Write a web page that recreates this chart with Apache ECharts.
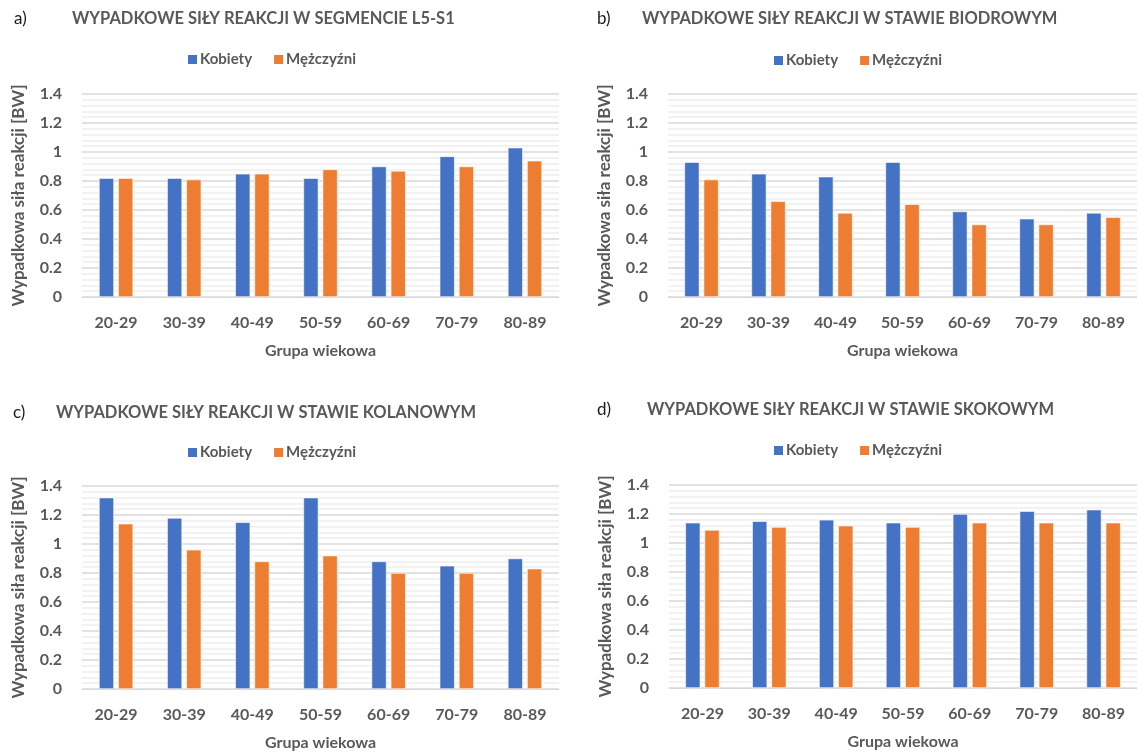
<!DOCTYPE html>
<html>
<head>
<meta charset="utf-8">
<script src="https://cdn.jsdelivr.net/npm/echarts@6/dist/echarts.min.js"></script>
<style>
  html, body { margin: 0; padding: 0; background: #fff; }
  #chart { width: 1137px; height: 753px; }
</style>
</head>
<body>
<div id="chart"></div>
<script>
// Age groups on the category axis
const categories = ['20-29', '30-39', '40-49', '50-59', '60-69', '70-79', '80-89'];
const seriesNames = ['Kobiety', 'Mężczyźni'];

// Resultant reaction forces [BW] per joint / segment
const l5s1Women = [0.82, 0.82, 0.85, 0.82, 0.90, 0.97, 1.03];
const l5s1Men   = [0.82, 0.81, 0.85, 0.88, 0.87, 0.90, 0.94];
const hipWomen  = [0.93, 0.85, 0.83, 0.93, 0.59, 0.54, 0.58];
const hipMen    = [0.81, 0.66, 0.58, 0.64, 0.50, 0.50, 0.55];
const kneeWomen = [1.32, 1.18, 1.15, 1.32, 0.88, 0.85, 0.90];
const kneeMen   = [1.14, 0.96, 0.88, 0.92, 0.80, 0.80, 0.83];
const ankleWomen = [1.14, 1.15, 1.16, 1.14, 1.20, 1.22, 1.23];
const ankleMen   = [1.09, 1.11, 1.12, 1.11, 1.14, 1.14, 1.14];

const panelLetters = ['a)', 'b)', 'c)', 'd)'];
const panelTitles = [
  'WYPADKOWE SIŁY REAKCJI W SEGMENCIE L5-S1',
  'WYPADKOWE SIŁY REAKCJI W STAWIE BIODROWYM',
  'WYPADKOWE SIŁY REAKCJI W STAWIE KOLANOWYM',
  'WYPADKOWE SIŁY REAKCJI W STAWIE SKOKOWYM'
];
const panelData = [
  [l5s1Women, l5s1Men],
  [hipWomen, hipMen],
  [kneeWomen, kneeMen],
  [ankleWomen, ankleMen]
];
const xAxisName = 'Grupa wiekowa';
const yAxisName = 'Wypadkowa siła reakcji [BW]';

const COLORS = ['#4472C4', '#ED7D31'];
const TEXT = '#595959';
const FONT = 'Lato, "Open Sans", sans-serif';

// Panel geometry (2x2 layout)
const panels = [
  { gx: 82,  gy: 94,  gw: 477, gh: 203, letterX: 14,  titleX: 72,  titleY: 10,  legendX: 186, legendY: 52 },
  { gx: 668, gy: 94,  gw: 477, gh: 203, letterX: 597, titleX: 642, titleY: 10,  legendX: 772, legendY: 53 },
  { gx: 82,  gy: 486, gw: 477, gh: 203, letterX: 13,  titleX: 56,  titleY: 404, legendX: 186, legendY: 445 },
  { gx: 669, gy: 485, gw: 477, gh: 203, letterX: 597, titleX: 647, titleY: 401, legendX: 772, legendY: 443 }
];

const titles = [];
const grids = [];
const xAxes = [];
const yAxes = [];
const legends = [];
const series = [];

panels.forEach((p, i) => {
  titles.push({
    text: panelLetters[i], left: p.letterX, top: p.titleY, padding: 0,
    textStyle: { fontFamily: FONT, fontSize: 17, fontWeight: 'normal', color: '#1a1a1a' }
  });
  titles.push({
    text: panelTitles[i], left: p.titleX, top: p.titleY, padding: 0,
    textStyle: { fontFamily: FONT, fontSize: 16.5, fontWeight: 'bold', color: TEXT }
  });
  grids.push({ left: p.gx, top: p.gy, width: p.gw, height: p.gh, containLabel: false });
  xAxes.push({
    type: 'category', gridIndex: i, data: categories,
    name: xAxisName, nameLocation: 'middle', nameGap: 46,
    nameTextStyle: { fontFamily: FONT, fontSize: 16, fontWeight: 'bold', color: TEXT },
    axisLine: { lineStyle: { color: '#d9d9d9', width: 1 } },
    axisTick: { show: false },
    axisLabel: { fontFamily: FONT, fontSize: 16, fontWeight: 'bold', color: TEXT, margin: 18 }
  });
  yAxes.push({
    type: 'value', gridIndex: i, min: 0, max: 1.4, interval: 0.2,
    name: yAxisName, nameLocation: 'middle', nameGap: 55, nameRotate: 90,
    nameTextStyle: { fontFamily: FONT, fontSize: 17, fontWeight: 'bold', color: TEXT },
    axisLine: { show: false }, axisTick: { show: false },
    axisLabel: { fontFamily: FONT, fontSize: 16, fontWeight: 'bold', color: TEXT, margin: 20 },
    splitLine: { lineStyle: { color: '#d9d9d9', width: 1.5 } },
    minorTick: { show: false, splitNumber: 5 },
    minorSplitLine: { show: true, lineStyle: { color: '#eeeeee', width: 1.5 } }
  });
  legends.push({
    data: seriesNames, left: p.legendX, top: p.legendY, padding: 0,
    itemWidth: 11, itemHeight: 11, itemGap: 20, icon: 'rect',
    textStyle: { fontFamily: FONT, fontSize: 15, fontWeight: 'bold', color: TEXT, padding: [0, 0, 0, -3] }
  });
  seriesNames.forEach((name, k) => {
    series.push({
      name, type: 'bar', xAxisIndex: i, yAxisIndex: i,
      data: panelData[i][k],
      barWidth: 15, barGap: '28%',
      itemStyle: { color: COLORS[k], borderColor: '#ffffff', borderWidth: 0.6 },
      emphasis: { disabled: true }
    });
  });
});

const chart = echarts.init(document.getElementById('chart'), null, { renderer: 'canvas' });
chart.setOption({
  animation: false,
  backgroundColor: '#ffffff',
  color: COLORS,
  title: titles,
  grid: grids,
  xAxis: xAxes,
  yAxis: yAxes,
  legend: legends,
  series: series
});
</script>
</body>
</html>
